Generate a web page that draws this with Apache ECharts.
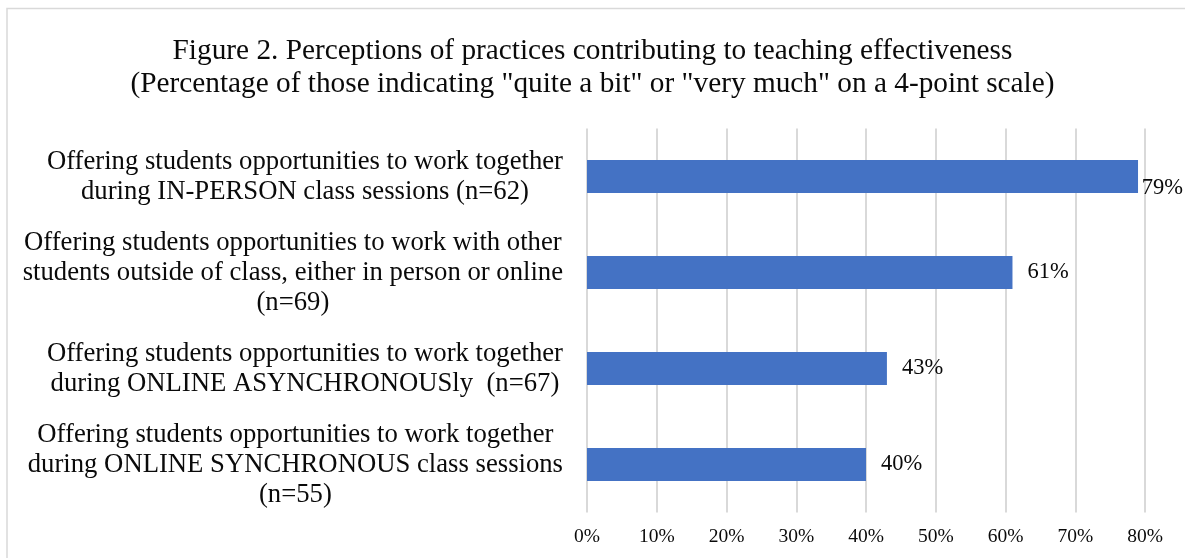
<!DOCTYPE html>
<html>
<head>
<meta charset="utf-8">
<style>
  html, body { margin: 0; padding: 0; background: #fff; }
  #chart { width: 1185px; height: 558px; }
</style>
<script src="https://cdn.jsdelivr.net/npm/echarts@6/dist/echarts.min.js"></script>
</head>
<body>
<div id="chart"></div>
<script>
// Practices, listed top to bottom; each entry is the label's lines
const practices = [
  ['Offering students opportunities to work together', 'during IN-PERSON class sessions (n=62)'],
  ['Offering students opportunities to work with other', 'students outside of class, either in person or online', '(n=69)'],
  ['Offering students opportunities to work together', 'during ONLINE ASYNCHRONOUSly  (n=67)'],
  ['Offering students opportunities to work together', 'during ONLINE SYNCHRONOUS class sessions', '(n=55)']
];
// Percentage answering "quite a bit" or "very much"
const percentages = [79, 61, 43, 40];
// Value axis ticks (percent)
const tickValues = [0, 10, 20, 30, 40, 50, 60, 70, 80];

const titleLines = [
  'Figure 2. Perceptions of practices contributing to teaching effectiveness',
  '(Percentage of those indicating "quite a bit" or "very much" on a 4-point scale)'
];

const serif = '"Liberation Serif", "Times New Roman", serif';
const chart = echarts.init(document.getElementById('chart'), null, { renderer: 'canvas' });

const categories = practices.map(lines => lines.join('\n'));

chart.setOption({
  backgroundColor: '#fff',
  animation: false,
  graphic: [{
    type: 'rect',
    silent: true,
    shape: { x: 7, y: 8.5, width: 1400, height: 800 },
    style: { fill: 'none', stroke: '#d9d9d9', lineWidth: 1.5 }
  }],
  title: {
    text: titleLines.join('\n'),
    left: 'center',
    top: 30,
    textStyle: { fontFamily: serif, fontSize: 29.3, fontWeight: 'normal', color: '#0a0a0a', lineHeight: 33 }
  },
  grid: { left: 587, right: 40, top: 128.5, bottom: 45.5, containLabel: false },
  xAxis: {
    type: 'value',
    min: tickValues[0],
    max: tickValues[tickValues.length - 1],
    interval: tickValues[1] - tickValues[0],
    axisLine: { show: false },
    axisTick: { show: false },
    splitLine: { show: true, lineStyle: { color: '#d9d9d9', width: 2 } },
    axisLabel: {
      formatter: v => v + '%',
      margin: 14,
      fontFamily: serif, fontSize: 19.5, color: '#0a0a0a'
    }
  },
  yAxis: {
    type: 'category',
    inverse: true,
    data: categories,
    axisLine: { show: false },
    axisTick: { show: false },
    axisLabel: {
      margin: 24,
      align: 'right',
      formatter: v => v.split('\n').map(l => '{c|' + l + '}').join('\n'),
      rich: {
        c: { align: 'center', fontFamily: serif, fontSize: 26.7, lineHeight: 30, color: '#0a0a0a' }
      }
    }
  },
  series: [{
    type: 'bar',
    data: percentages,
    barCategoryGap: '65.6%',
    itemStyle: { color: '#4472C4' },
    label: {
      show: true,
      position: 'right',
      distance: 15,
      formatter: p => p.value + '%',
      fontFamily: serif, fontSize: 22.5, color: '#0a0a0a'
    },
    labelLayout: function (params) {
      // keep value labels inside the canvas
      const r = params.labelRect;
      const maxRight = chart.getWidth() - 2;
      if (r.x + r.width > maxRight) {
        return { x: maxRight - r.width };
      }
    }
  }]
});
</script>
</body>
</html>
